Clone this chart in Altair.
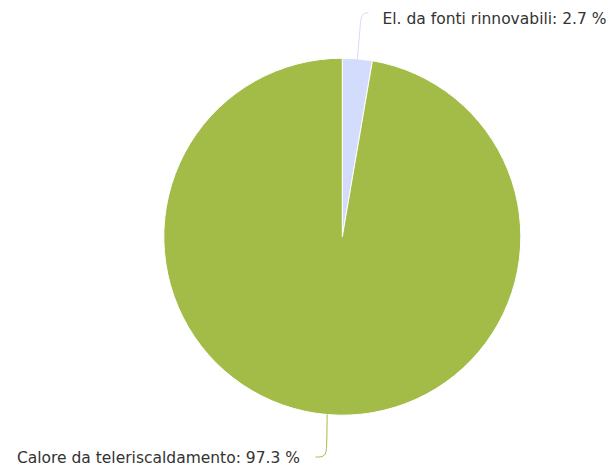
import math
import altair as alt
import pandas as pd

# ---- data ----
labels = ["El. da fonti rinnovabili", "Calore da teleriscaldamento"]
values = [2.7, 97.3]
colors = ["#d3dcfc", "#a3bb47"]

# ---- layout constants ----
W, H = 606, 467          # drawing extent in page pixels (plot origin = page origin)
CX, CY, R = 342.3, 236.7, 178.5
# connector offsets (relative to slice edge point): break point, corner, end
brk = [(2.6, -30.0), (-0.4, 30.0)]
corner = [(3.6, -45.8), (-1.0, 42.5)]
end = [(11.1, -45.8), (-11.7, 42.5)]
text_off = [(14.0, 11.0), (-15.5, 6.3)]
aligns = ["left", "right"]

df = pd.DataFrame({"label": labels, "value": values, "idx": range(len(labels))})
total = sum(values)
mids = []
acc = 0.0
for v in values:
    mids.append((acc + v / 2) / total * 2 * math.pi)
    acc += v

conn_rows, text_rows = [], []
for i, (lab, v) in enumerate(zip(labels, values)):
    m = mids[i]
    ax, ay = CX + R * math.sin(m), CY - R * math.cos(m)
    pts = [(ax, ay), (ax + brk[i][0], ay + brk[i][1]),
           (ax + corner[i][0], ay + corner[i][1]), (ax + end[i][0], ay + end[i][1])]
    for s, (px, py) in enumerate(pts):
        conn_rows.append({"label": lab, "seq": s, "x": px, "y": py})
    ex, ey = pts[-1]
    text_rows.append({"label": lab, "x": ex + text_off[i][0], "y": ey + text_off[i][1],
                      "text": f"{lab}: {v} %", "side": aligns[i]})

conn = pd.DataFrame(conn_rows)
txt = pd.DataFrame(text_rows)

xs = alt.Scale(domain=[0, W], range=[0, W], nice=False, zero=False)
ys = alt.Scale(domain=[0, H], range=[0, H], nice=False, zero=False)
cscale = alt.Scale(domain=labels, range=colors)

pie = alt.Chart(df).mark_arc(outerRadius=R, stroke="white", strokeWidth=1).encode(
    theta=alt.Theta("value:Q", stack=True),
    color=alt.Color("label:N", scale=cscale, legend=None),
    order=alt.Order("idx:Q"),
    x=alt.value(CX),
    y=alt.value(CY),
)

lines = alt.Chart(conn).mark_line(strokeWidth=1, interpolate="basis").encode(
    x=alt.X("x:Q", scale=xs, axis=None),
    y=alt.Y("y:Q", scale=ys, axis=None),
    color=alt.Color("label:N", scale=cscale, legend=None),
    detail="label:N",
    order=alt.Order("seq:Q"),
)

def text_layer(side):
    return alt.Chart(txt).transform_filter(alt.datum.side == side).mark_text(
        align=side, baseline="alphabetic", font="DejaVu Sans", fontSize=15.5, color="#333333"
    ).encode(
        x=alt.X("x:Q", scale=xs, axis=None),
        y=alt.Y("y:Q", scale=ys, axis=None),
        text="text:N",
    )

chart = alt.layer(pie, lines, text_layer("left"), text_layer("right")).properties(
    width=W, height=H,
    autosize=alt.AutoSizeParams(type="none"),
    padding={"left": -8, "top": -8, "right": 0, "bottom": 0},
).configure_view(stroke=None)

chart.save("out.html", embed_options={"renderer": "svg", "actions": False})
